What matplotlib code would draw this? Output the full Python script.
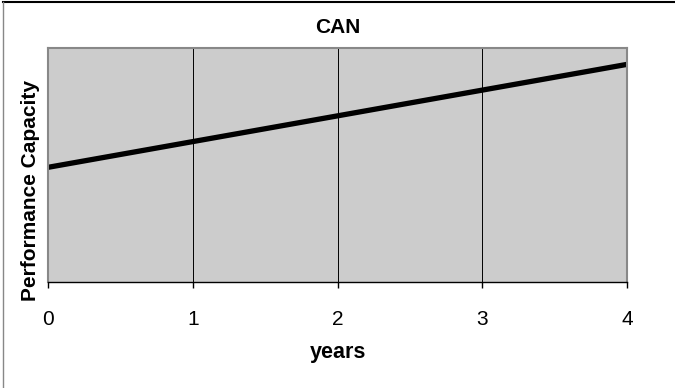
import matplotlib as mpl
mpl.use("Agg")
import matplotlib.pyplot as plt
from matplotlib.lines import Line2D

plt.rcParams['font.family'] = ['Liberation Sans', 'DejaVu Sans']

years = [0, 1, 2, 3, 4]
capacity = [49, 60, 71, 82, 93]

fig = plt.figure(figsize=(6.75, 3.88), dpi=100)
ax = fig.add_axes([48/675, 1 - 282/388, 579/675, 234/388])
ax.set_facecolor('#cccccc')

ax.plot(years, capacity, color='black', lw=3.8, solid_capstyle='butt')

ax.set_xlim(0, 4)
ax.set_ylim(0, 100)
ax.set_xticks(years)
ax.set_yticks([])
ax.grid(axis='x', color='black', lw=0.7)
ax.tick_params(axis='x', direction='out', length=4.5, width=1, labelsize=15, pad=16)

for side in ['left', 'right', 'top']:
    ax.spines[side].set_color('#888888')
    ax.spines[side].set_linewidth(1.5)
ax.spines['bottom'].set_color('black')
ax.spines['bottom'].set_linewidth(1)

ax.set_title("CAN", fontsize=15, fontweight='bold', pad=11)
ax.set_xlabel("years", fontsize=15.5, fontweight='bold', labelpad=9)
ax.set_ylabel("Performance Capacity", fontsize=15, fontweight='bold')
ax.yaxis.set_label_coords(-0.014, 0.39)

# outer frame (top and left only)
fig.add_artist(Line2D([3/675, 1], [1 - 2/388, 1 - 2/388], color='black', lw=1.5, transform=fig.transFigure))
fig.add_artist(Line2D([3/675, 3/675], [0, 1 - 2/388], color='#888888', lw=1, transform=fig.transFigure))

fig.savefig("out.png", dpi=100)
